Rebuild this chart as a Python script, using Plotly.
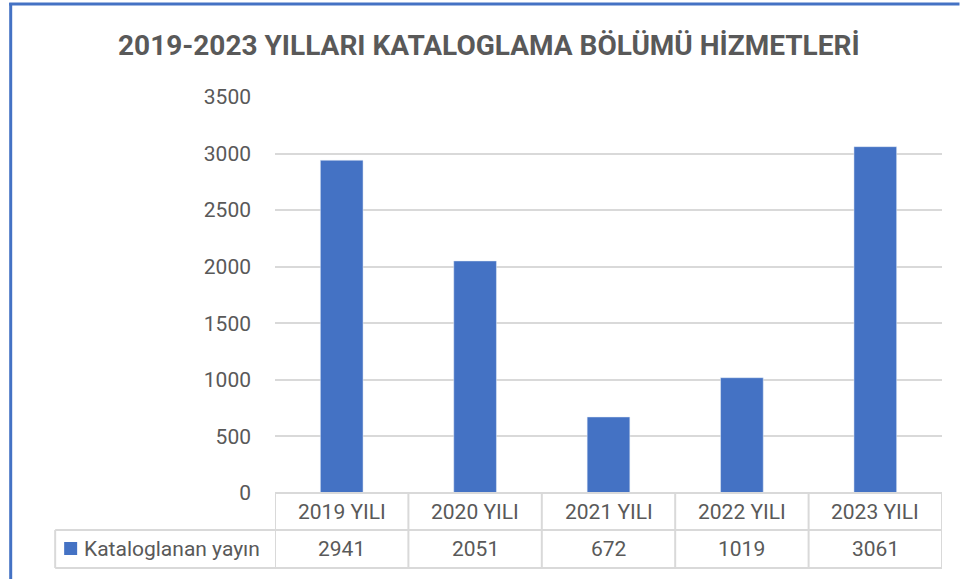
import plotly.graph_objects as go

categories = ["2019 YILI", "2020 YILI", "2021 YILI", "2022 YILI", "2023 YILI"]
values = [2941, 2051, 672, 1019, 3061]
series_name = "Kataloglanan yayın"
title = "2019-2023 YILLARI KATALOGLAMA BÖLÜMÜ HİZMETLERİ"
y_ticks = [0, 500, 1000, 1500, 2000, 2500, 3000, 3500]

BLUE = "#4472C4"
TXT = "#595959"
GRID = "#D9D9D9"
FONT = "Roboto, sans-serif"

W, H = 960, 579
L, R, T, B = 275, 17.5, 97, 86
pw, ph = W - L - R, H - T - B

def px_x(px):
    return (px - L) / pw

def px_y(py):
    return (H - B - py) / ph

fig = go.Figure()
fig.add_trace(go.Bar(x=list(range(len(categories))), y=values, marker_color=BLUE,
                     width=0.32, name=series_name, showlegend=False))

shapes = []
annotations = []
n = len(categories)
row1_top, row1_bot, row2_bot = px_y(493), px_y(530), px_y(568)
left_x = px_x(55)
lw = 2
shapes.append(dict(type="line", xref="x", yref="paper", x0=-0.5, x1=n - 0.5, y0=row1_top, y1=row1_top,
                   line=dict(color=GRID, width=lw)))
for yy in (row1_bot, row2_bot):
    shapes.append(dict(type="line", xref="paper", yref="paper", x0=left_x, x1=1, y0=yy, y1=yy,
                       line=dict(color=GRID, width=lw)))
for i in range(n + 1):
    shapes.append(dict(type="line", xref="x", yref="paper", x0=i - 0.5, x1=i - 0.5, y0=row1_top, y1=row2_bot,
                       line=dict(color=GRID, width=lw)))
shapes.append(dict(type="line", xref="paper", yref="paper", x0=left_x, x1=left_x, y0=row1_bot, y1=row2_bot,
                   line=dict(color=GRID, width=lw)))
# legend key
shapes.append(dict(type="rect", xref="paper", yref="paper", x0=px_x(64), x1=px_x(77), y0=px_y(555), y1=px_y(542),
                   fillcolor=BLUE, line=dict(width=0)))
# outer blue border (top + left)
shapes.append(dict(type="line", xref="paper", yref="paper", x0=px_x(10.5), x1=px_x(10.5), y0=px_y(3), y1=px_y(579),
                   line=dict(color=BLUE, width=3)))
shapes.append(dict(type="line", xref="paper", yref="paper", x0=px_x(9), x1=px_x(960), y0=px_y(4), y1=px_y(4),
                   line=dict(color=BLUE, width=3)))

cell_font = dict(family=FONT, size=21, color=TXT)
for i, (c, v) in enumerate(zip(categories, values)):
    annotations.append(dict(x=i, xref="x", y=(row1_top + row1_bot) / 2, yref="paper", text=c, showarrow=False,
                            xanchor="center", yanchor="middle", font=cell_font))
    annotations.append(dict(x=i, xref="x", y=(row1_bot + row2_bot) / 2, yref="paper", text=str(v), showarrow=False,
                            xanchor="center", yanchor="middle", font=cell_font))
annotations.append(dict(x=px_x(82), xref="paper", y=(row1_bot + row2_bot) / 2, yref="paper", text=series_name,
                        showarrow=False, xanchor="left", yanchor="middle", font=cell_font))
annotations.append(dict(x=px_x(489), xref="paper", y=px_y(46), yref="paper", text="<b>" + title + "</b>",
                        showarrow=False, xanchor="center", yanchor="middle",
                        font=dict(family=FONT, size=28, color=TXT)))

fig.update_layout(
    width=W, height=H,
    margin=dict(l=L, r=R, t=T, b=B),
    paper_bgcolor="white", plot_bgcolor="white",
    shapes=shapes, annotations=annotations,
    xaxis=dict(range=[-0.5, n - 0.5], showticklabels=False, showgrid=False, zeroline=False, showline=False,
               fixedrange=True),
    yaxis=dict(range=[0, 3500], tickvals=y_ticks, showgrid=True, gridcolor=GRID, gridwidth=2,
               zeroline=False, showline=False, ticks="", ticklabelstandoff=23,
               tickfont=dict(family=FONT, size=21, color=TXT), fixedrange=True),
)
fig.write_html("out.html", config={"displayModeBar": False},
               post_script="document.body.style.margin='0';document.body.style.overflow='hidden';")
